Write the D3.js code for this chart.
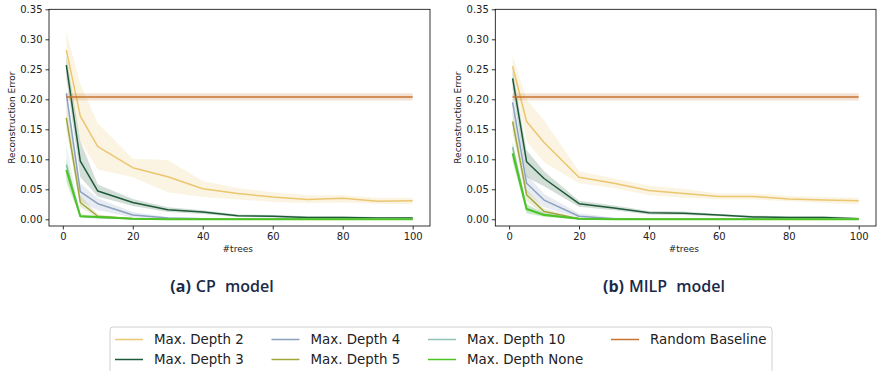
<!DOCTYPE html>
<html><head><meta charset="utf-8">
<script src="https://cdn.jsdelivr.net/npm/d3@7"></script>
<style>body{margin:0;background:#fff}svg{display:block}</style>
</head><body>
<svg id="c" width="880" height="371"></svg>
<script>
const trees = [1,5,10,20,30,40,50,60,70,80,90,100];
const seriesNames = ["Max. Depth 2","Max. Depth 3","Max. Depth 4","Max. Depth 5","Max. Depth 10","Max. Depth None","Random Baseline"];
const seriesColors = ["#ebc670","#1d5a38","#8ba1be","#a0a63a","#8fc1b4","#4cc424","#c8732f"];
const yTicks = [0,0.05,0.10,0.15,0.20,0.25,0.30,0.35];
const xTicks = [0,20,40,60,80,100];

// CP model: mean, lower, upper
const cpD2   = [0.282,0.172,0.121,0.086,0.071,0.051,0.043,0.037,0.033,0.035,0.030,0.031];
const cpD2lo = [0.255,0.130,0.083,0.070,0.045,0.037,0.033,0.029,0.027,0.028,0.026,0.025];
const cpD2hi = [0.312,0.225,0.160,0.101,0.099,0.064,0.052,0.045,0.040,0.040,0.036,0.036];
const cpD3   = [0.257,0.097,0.047,0.028,0.016,0.012,0.006,0.005,0.003,0.003,0.002,0.002];
const cpD3lo = [0.235,0.070,0.038,0.022,0.012,0.009,0.004,0.003,0.001,0.001,0.000,0.000];
const cpD3hi = [0.272,0.130,0.058,0.034,0.020,0.015,0.008,0.007,0.005,0.005,0.004,0.004];
const cpD4   = [0.210,0.046,0.026,0.007,0.002,0.001,0.000,0.000,0.000,0.000,0.000,0.000];
const cpD4lo = [0.190,0.030,0.015,0.003,0.000,0.000,0.000,0.000,0.000,0.000,0.000,0.000];
const cpD4hi = [0.216,0.060,0.035,0.012,0.004,0.002,0.001,0.001,0.001,0.001,0.001,0.001];
const cpD5   = [0.169,0.028,0.005,0.001,0.000,0.000,0.000,0.000,0.000,0.000,0.000,0.000];
const cpD5lo = [0.150,0.020,0.002,0.000,0.000,0.000,0.000,0.000,0.000,0.000,0.000,0.000];
const cpD5hi = [0.190,0.040,0.008,0.002,0.001,0.001,0.001,0.001,0.001,0.001,0.001,0.001];
const cpD10   = [0.091,0.005,0.003,0.001,0.000,0.000,0.000,0.000,0.000,0.000,0.000,0.000];
const cpD10lo = [0.060,0.003,0.001,0.000,0.000,0.000,0.000,0.000,0.000,0.000,0.000,0.000];
const cpD10hi = [0.125,0.008,0.005,0.002,0.001,0.001,0.001,0.001,0.001,0.001,0.001,0.001];
const cpDN   = [0.082,0.005,0.004,0.001,0.000,0.000,0.000,0.000,0.000,0.000,0.000,0.000];
const cpDNlo = [0.065,0.003,0.002,0.000,0.000,0.000,0.000,0.000,0.000,0.000,0.000,0.000];
const cpDNhi = [0.100,0.008,0.006,0.002,0.001,0.001,0.001,0.001,0.001,0.001,0.001,0.001];
const cpRB   = [0.204,0.204,0.204,0.204,0.204,0.204,0.204,0.204,0.204,0.204,0.204,0.204];
const cpRBlo = [0.198,0.198,0.198,0.198,0.198,0.198,0.198,0.198,0.198,0.198,0.198,0.198];
const cpRBhi = [0.210,0.210,0.210,0.210,0.210,0.210,0.210,0.210,0.210,0.210,0.210,0.210];

// MILP model
const miD2   = [0.255,0.163,0.128,0.070,0.060,0.048,0.043,0.038,0.038,0.034,0.032,0.031];
const miD2lo = [0.240,0.130,0.095,0.060,0.052,0.040,0.036,0.033,0.033,0.030,0.027,0.025];
const miD2hi = [0.272,0.200,0.165,0.080,0.068,0.056,0.051,0.043,0.043,0.039,0.037,0.036];
const miD3   = [0.235,0.096,0.068,0.026,0.019,0.011,0.010,0.007,0.004,0.003,0.003,0.001];
const miD3lo = [0.215,0.070,0.055,0.021,0.015,0.008,0.007,0.005,0.002,0.001,0.001,0.000];
const miD3hi = [0.250,0.115,0.080,0.031,0.023,0.014,0.013,0.009,0.006,0.005,0.005,0.003];
const miD4   = [0.195,0.060,0.032,0.005,0.001,0.000,0.000,0.000,0.000,0.000,0.000,0.000];
const miD4lo = [0.175,0.045,0.020,0.002,0.000,0.000,0.000,0.000,0.000,0.000,0.000,0.000];
const miD4hi = [0.210,0.075,0.042,0.010,0.003,0.001,0.001,0.001,0.001,0.001,0.001,0.001];
const miD5   = [0.163,0.041,0.013,0.001,0.000,0.000,0.000,0.000,0.000,0.000,0.000,0.000];
const miD5lo = [0.145,0.030,0.008,0.000,0.000,0.000,0.000,0.000,0.000,0.000,0.000,0.000];
const miD5hi = [0.180,0.050,0.018,0.002,0.001,0.001,0.001,0.001,0.001,0.001,0.001,0.001];
const miD10   = [0.120,0.018,0.008,0.001,0.000,0.000,0.000,0.000,0.000,0.000,0.000,0.000];
const miD10lo = [0.100,0.010,0.005,0.000,0.000,0.000,0.000,0.000,0.000,0.000,0.000,0.000];
const miD10hi = [0.130,0.025,0.011,0.002,0.001,0.001,0.001,0.001,0.001,0.001,0.001,0.001];
const miDN   = [0.110,0.017,0.007,0.001,0.000,0.000,0.000,0.000,0.000,0.000,0.000,0.000];
const miDNlo = [0.095,0.010,0.004,0.000,0.000,0.000,0.000,0.000,0.000,0.000,0.000,0.000];
const miDNhi = [0.128,0.025,0.010,0.002,0.001,0.001,0.001,0.001,0.001,0.001,0.001,0.001];
const miRB   = [0.204,0.204,0.204,0.204,0.204,0.204,0.204,0.204,0.204,0.204,0.204,0.204];
const miRBlo = [0.198,0.198,0.198,0.198,0.198,0.198,0.198,0.198,0.198,0.198,0.198,0.198];
const miRBhi = [0.210,0.210,0.210,0.210,0.210,0.210,0.210,0.210,0.210,0.210,0.210,0.210];

const panels = [
  {caption:["(a)","CP model"], x0:49, x1:430, capX:222,
   series:[[cpD2,cpD2lo,cpD2hi],[cpD3,cpD3lo,cpD3hi],[cpD4,cpD4lo,cpD4hi],[cpD5,cpD5lo,cpD5hi],[cpD10,cpD10lo,cpD10hi],[cpDN,cpDNlo,cpDNhi],[cpRB,cpRBlo,cpRBhi]]},
  {caption:["(b)","MILP model"], x0:495.3, x1:876, capX:664,
   series:[[miD2,miD2lo,miD2hi],[miD3,miD3lo,miD3hi],[miD4,miD4lo,miD4hi],[miD5,miD5lo,miD5hi],[miD10,miD10lo,miD10hi],[miDN,miDNlo,miDNhi],[miRB,miRBlo,miRBhi]]}
];

const svg = d3.select("#c");
const yTop = 9.3, yBot = 226;
const font = "'DejaVu Sans', sans-serif";

panels.forEach(p => {
  const x = d3.scaleLinear().domain([-3.95,104.95]).range([p.x0,p.x1]);
  const y = d3.scaleLinear().domain([-0.0112,0.35]).range([yBot,yTop]);
  const g = svg.append("g");
  const clipId = "clip"+Math.round(p.x0);
  svg.append("clipPath").attr("id",clipId).append("rect")
    .attr("x",p.x0).attr("y",yTop).attr("width",p.x1-p.x0).attr("height",yBot-yTop);
  const plot = g.append("g").attr("clip-path",`url(#${clipId})`);
  p.series.forEach((s,i) => {
    const pts = trees.map((t,k)=>({x:t,m:s[0][k],lo:s[1][k],hi:s[2][k]}));
    plot.append("path").datum(pts)
      .attr("d", d3.area().x(d=>x(d.x)).y0(d=>y(d.lo)).y1(d=>y(d.hi)))
      .attr("fill", seriesColors[i]).attr("fill-opacity",0.2).attr("stroke","none");
    plot.append("path").datum(pts)
      .attr("d", d3.line().x(d=>x(d.x)).y(d=>y(d.m)))
      .attr("fill","none").attr("stroke",seriesColors[i])
      .attr("stroke-width", i===5 ? 2 : 1.5).attr("stroke-linejoin","round");
  });
  // axes
  const xa = g.append("g").attr("transform",`translate(0,${yBot})`)
    .call(d3.axisBottom(x).tickValues(xTicks).tickSize(3.5).tickPadding(3).tickFormat(d3.format("d")));
  const ya = g.append("g").attr("transform",`translate(${p.x0},0)`)
    .call(d3.axisLeft(y).tickValues(yTicks).tickSize(3.5).tickPadding(3).tickFormat(d3.format(".2f")));
  [xa,ya].forEach(a=>{
    a.select(".domain").remove();
    a.selectAll("line").attr("stroke","#000").attr("stroke-width",0.8);
    a.selectAll("text").attr("font-family",font).attr("font-size",10).attr("fill","#222");
  });
  g.append("rect").attr("x",p.x0).attr("y",yTop).attr("width",p.x1-p.x0).attr("height",yBot-yTop)
    .attr("fill","none").attr("stroke","#000").attr("stroke-width",0.8);
  g.append("text").attr("x",(x(0)+x(100))/2).attr("y",252).attr("text-anchor","middle")
    .attr("font-family",font).attr("font-size",9).attr("fill","#222").text("#trees");
  g.append("text").attr("transform",`translate(${p.x0-34.5},${(yTop+yBot)/2}) rotate(-90)`)
    .attr("text-anchor","middle").attr("font-family",font).attr("font-size",9).attr("fill","#222")
    .text("Reconstruction Error");
  const cap = g.append("text").attr("x",p.capX).attr("y",291.5).attr("text-anchor","middle")
    .attr("font-family","'Open Sans', 'Noto Sans', sans-serif").attr("font-size",16).attr("fill","#1b2a4a");
  cap.append("tspan").attr("font-weight",700).text(p.caption[0]);
  cap.append("tspan").attr("font-weight",600).attr("dx",5).attr("word-spacing",5).text(p.caption[1]);
});

// legend
const lg = svg.append("g");
lg.append("rect").attr("x",110).attr("y",327).attr("width",662).attr("height",60).attr("rx",3)
  .attr("fill","#fff").attr("stroke","#d0d0d0").attr("stroke-width",1);
const colX = [115,271.5,428,611];
const rowY = [339.5,359.5];
const layout = [[0,0],[1,0],[0,1],[1,1],[0,2],[1,2],[0,3]];
seriesNames.forEach((n,i)=>{
  const [r,c] = layout[i];
  lg.append("line").attr("x1",colX[c]).attr("x2",colX[c]+28).attr("y1",rowY[r]).attr("y2",rowY[r])
    .attr("stroke",seriesColors[i]).attr("stroke-width",1.5);
  lg.append("text").attr("x",colX[c]+39).attr("y",rowY[r]).attr("dy","0.35em")
    .attr("font-family",font).attr("font-size",13.4).attr("fill","#222").text(n);
});
</script>
</body></html>
